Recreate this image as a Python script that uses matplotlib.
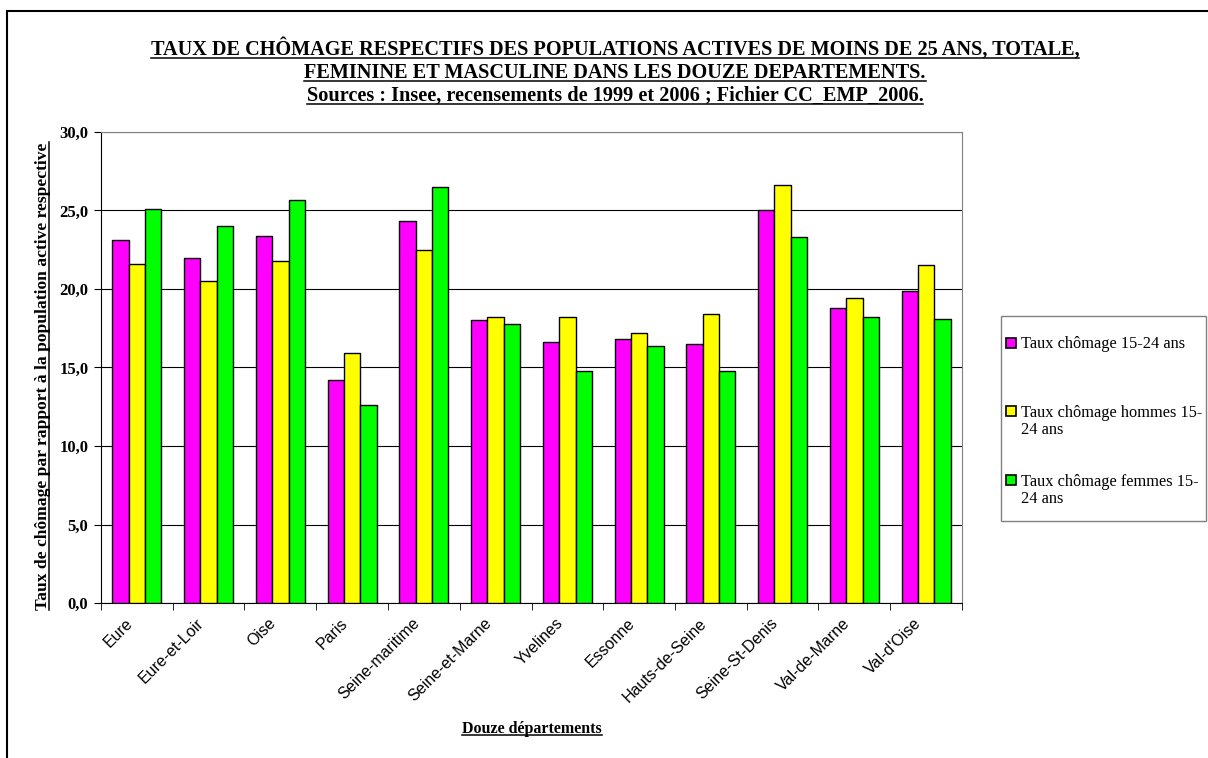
import numpy as np
import matplotlib
matplotlib.use('Agg')
import matplotlib.pyplot as plt
import matplotlib.patches as patches
import matplotlib.lines as lines
from matplotlib.ticker import FuncFormatter

# Data
departements = ['Eure', 'Eure-et-Loir', 'Oise', 'Paris', 'Seine-maritime', 'Seine-et-Marne',
                'Yvelines', 'Essonne', 'Hauts-de-Seine', 'Seine-St-Denis', 'Val-de-Marne', "Val-d'Oise"]
taux_total = [23.1, 22.0, 23.4, 14.2, 24.3, 18.0, 16.6, 16.8, 16.5, 25.0, 18.8, 19.9]
taux_hommes = [21.6, 20.5, 21.8, 15.9, 22.5, 18.2, 18.2, 17.2, 18.4, 26.6, 19.4, 21.5]
taux_femmes = [25.1, 24.0, 25.7, 12.6, 26.5, 17.8, 14.8, 16.4, 14.8, 23.3, 18.2, 18.1]
series_labels = ['Taux chômage 15-24 ans', 'Taux chômage hommes 15-\n24 ans', 'Taux chômage femmes 15-\n24 ans']
series_colors = ['#ff00ff', '#ffff00', '#00ff00']
yticks = [0, 5, 10, 15, 20, 25, 30]

title_lines = ['TAUX DE CHÔMAGE RESPECTIFS DES POPULATIONS ACTIVES DE MOINS DE 25 ANS, TOTALE,',
               'FEMININE ET MASCULINE DANS LES DOUZE DEPARTEMENTS.',
               'Sources : Insee, recensements de 1999 et 2006 ; Fichier CC_EMP_2006.']

W, H = 1208, 758
SERIF = 'Liberation Serif'
SANS = 'Liberation Sans'


def fx(px):
    return px / W


def fy(py):
    return 1 - py / H


fig = plt.figure(figsize=(W / 100, H / 100), dpi=100)
fig.patch.set_facecolor('white')

# Outer frame (cut on the right and bottom)
fig.add_artist(lines.Line2D([fx(7), fx(7), fx(1208)], [fy(758), fy(11), fy(11)],
                            color='black', lw=1.5, solid_joinstyle='miter'))

ax = fig.add_axes([fx(101), fy(603), (962 - 101) / W, (603 - 132) / H])

x = np.arange(len(departements))
bw = 0.227
for i, (vals, col) in enumerate(zip([taux_total, taux_hommes, taux_femmes], series_colors)):
    ax.bar(x + (i - 1) * bw, vals, width=bw, color=col, edgecolor='black', linewidth=1.0, zorder=3)

ax.set_xlim(-0.5, len(departements) - 0.5)
ax.set_ylim(0, 30)
ax.set_yticks(yticks)
ax.yaxis.set_major_formatter(FuncFormatter(lambda v, p: f'{v:.1f}'.replace('.', ',')))
ax.grid(axis='y', color='black', lw=0.8, zorder=1)

# labels sit a little left of the category centre, as in the original
ax.set_xticks(x - 0.17)
ax.set_xticklabels(departements, rotation=45, ha='right', va='top', rotation_mode='anchor',
                   family=SANS, fontsize=11.5)
ax.set_xticks(np.arange(-0.5, len(departements), 1), minor=True)
ax.tick_params(axis='x', which='major', length=0, pad=9)
ax.tick_params(axis='x', which='minor', length=5, direction='out', color='black')
ax.tick_params(axis='y', length=5, direction='out', color='black', pad=4)
for lab in ax.get_yticklabels():
    lab.set_family(SERIF)
    lab.set_fontweight('bold')
    lab.set_fontsize(12)

for side in ['top', 'right']:
    ax.spines[side].set_color('#808080')
    ax.spines[side].set_linewidth(0.8)
for side in ['left', 'bottom']:
    ax.spines[side].set_color('black')
    ax.spines[side].set_linewidth(0.8)

# Title
texts_to_underline = []
title_y = [55, 78, 101]
for line, yy in zip(title_lines, title_y):
    t = fig.text(fx(615), fy(yy), line, ha='center', va='baseline', family=SERIF,
                 fontweight='bold', fontsize=14.6)
    texts_to_underline.append(t)

# Axis titles
yl = fig.text(fx(43), fy(376), 'Taux de chômage par rapport à la population active respective',
              rotation=90, ha='center', va='center', family=SERIF, fontweight='bold', fontsize=12.6)
xl = fig.text(fx(532), fy(733), 'Douze départements', ha='center', va='baseline', family=SERIF,
              fontweight='bold', fontsize=11.5)
texts_to_underline.append(xl)

# Legend (drawn by hand to keep the wrapped labels aligned like the original)
fig.add_artist(patches.Rectangle((fx(1001), fy(521)), (1206 - 1001) / W, (521 - 316) / H,
                                 transform=fig.transFigure, facecolor='white',
                                 edgecolor='#808080', lw=1.0))
leg_y = [343, 411, 480]
line_step = 18
for lab, col, yy in zip(series_labels, series_colors, leg_y):
    fig.add_artist(patches.Rectangle((fx(1006), fy(yy + 5)), 10 / W, 10 / H,
                                     transform=fig.transFigure, facecolor=col,
                                     edgecolor='black', lw=1.2))
    extra = lab.count('\n') * line_step
    fig.text(fx(1021), fy(yy + 5 + extra), lab, ha='left', va='baseline', family=SERIF,
             fontsize=11.8, linespacing=1.1)

# Underlines
fig.canvas.draw()
inv = fig.transFigure.inverted()
for t in texts_to_underline:
    bb = t.get_window_extent().transformed(inv)
    yy = bb.y0 + 2.0 / H
    fig.add_artist(lines.Line2D([bb.x0, bb.x1], [yy, yy], color='black', lw=1.1))
bb = yl.get_window_extent().transformed(inv)
xx = bb.x1 - 2.0 / W
fig.add_artist(lines.Line2D([xx, xx], [bb.y0, bb.y1], color='black', lw=1.1))

fig.savefig('out.png', dpi=100, facecolor='white')
